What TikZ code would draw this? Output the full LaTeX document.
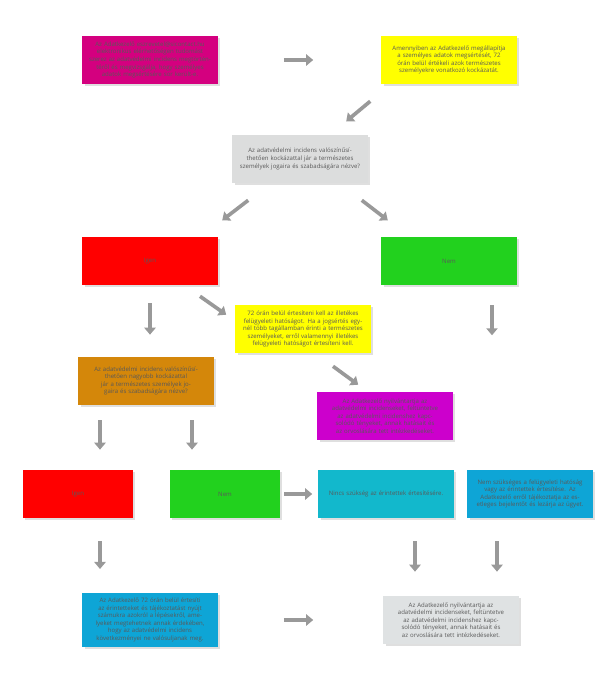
\documentclass[tikz,border=0pt]{standalone}
\usepackage{fontspec}
\setmainfont{Open Sans}
\usetikzlibrary{arrows.meta,calc,shadows}
\definecolor{cMag}{HTML}{D4007F}
\definecolor{cYel}{HTML}{FFFF00}
\definecolor{cGry}{HTML}{DCDDDD}
\definecolor{cRed}{HTML}{FF0000}
\definecolor{cGrn}{HTML}{22D11E}
\definecolor{cOrg}{HTML}{D4870A}
\definecolor{cPur}{HTML}{CC00CC}
\definecolor{cTea}{HTML}{12B8CC}
\definecolor{cBlu}{HTML}{0EA5D6}
\definecolor{cLgr}{HTML}{DFE2E3}
\begin{document}
\begin{tikzpicture}[
        x=0.025cm, y=-0.025cm,
        box/.style={rectangle, minimum width=3.375cm, minimum height=1.2cm, text width=3.05cm,
                    align=center, font=\fontsize{4.3}{5.4}\selectfont, text=black!65,
                    drop shadow={opacity=0.25, shadow xshift=1.5pt, shadow yshift=-1.5pt}},
        nbox/.style={box, minimum width=2.75cm, text width=2.5cm},
        arrow/.style={-{Triangle[length=5pt, width=8pt]}, line width=2.6pt, gray!80}
    ]
    \useasboundingbox (0,0) rectangle (600,691);
    % first row
    \node[box, fill=cMag] (notice) at (150,60) {Az Adatkezelő eszrevetel@sicontact.hu elektronikus elérhetőségen tudomást szerez az adatvédelmi incidens megtörténtéről és megvizsgálja, hogy személyes adatok megsértésére sor került-e.};
    \node[box, fill=cYel] (assess) at (449,60) {Amennyiben az Adatkezelő megállapítja a személyes adatok megsértését, 72 órán belül értékeli azok természetes személyekre vonatkozó kockázatát.};
    \node[box, fill=cGry] (risk) at (300,159) {Az adatvédelmi incidens valószínűsíthetően kockázattal jár a természetes személyek jogaira és szabadságára nézve?};
    % answers
    \node[box, fill=cRed] (yes1) at (150,261) {Igen};
    \node[box, fill=cGrn] (no1) at (449,261) {Nem};
    \node[box, fill=cYel] (report) at (303,329) {72 órán belül értesíteni kell az illetékes felügyeleti hatóságot. Ha a jogsértés egynél több tagállamban érinti a természetes személyeket, erről valamennyi illetékes felügyeleti hatóságot értesíteni kell.};
    \node[box, fill=cOrg] (highrisk) at (146,381) {Az adatvédelmi incidens valószínűsíthetően nagyobb kockázattal jár a természetes személyek jogaira és szabadságára nézve?};
    \node[box, fill=cPur] (log1) at (385,416) {Az Adatkezelő nyilvántartja az adatvédelmi incidenseket, feltüntetve az adatvédelmi incidenshez kapcsolódó tényeket, annak hatásait és az orvoslására tett intézkedéseket.};
    % second answers
    \node[nbox, fill=cRed] (yes2) at (78,494) {Igen};
    \node[nbox, fill=cGrn] (no2) at (225,494) {Nem};
    \node[box, fill=cTea] (noinfo) at (386,494) {Nincs szükség az érintettek értesítésére.};
    \node[box, fill=cBlu, minimum width=3.125cm, text width=2.8cm] (close) at (530,494) {Nem szükséges a felügyeleti hatóság vagy az érintettek értesítése. Az Adatkezelő erről tájékoztatja az esetleges bejelentőt és lezárja az ügyet.};
    % last row
    \node[box, fill=cBlu] (inform) at (150,620) {Az Adatkezelő 72 órán belül értesíti az érintetteket és tájékoztatást nyújt számukra azokról a lépésekről, amelyeket megtehetnek annak érdekében, hogy az adatvédelmi incidens következményei ne valósuljanak meg.};
    \node[box, fill=cLgr] (log2) at (451,620) {Az Adatkezelő nyilvántartja az adatvédelmi incidenseket, feltüntetve az adatvédelmi incidenshez kapcsolódó tényeket, annak hatásait és az orvoslására tett intézkedéseket.};
    % arrows
    \draw[arrow] ($(notice.east)+(66,0)$) -- ($(assess.west)+(-68,0)$);
    \draw[arrow] ($(assess.south west)+(-11,17)$) -- ($(assess.south west)+(-35,37)$);
    \draw[arrow] ($(risk.south west)+(16,17)$) -- ($(risk.south west)+(-10,37)$);
    \draw[arrow] ($(risk.south east)+(-6,17)$) -- ($(risk.south east)+(20,37)$);
    \draw[arrow] ($(yes1.south)+(0,18)$) -- ($(highrisk.north)+(4,-22)$);
    \draw[arrow] ($(yes1.south)+(50,11)$) -- ($(report.north west)+(-9,10)$);
    \draw[arrow] ($(no1.south)+(43,20)$) -- ($(no1.south)+(43,50)$);
    \draw[arrow] ($(report.south)+(30,13)$) -- ($(log1.north west)+(41,-7)$);
    \draw[arrow] ($(highrisk.south)+(-46,15)$) -- ($(yes2.north)+(22,-20)$);
    \draw[arrow] ($(highrisk.south)+(46,15)$) -- ($(no2.north)+(-33,-20)$);
    \draw[arrow] ($(no2.east)+(4,0)$) -- ($(noinfo.west)+(-6,0)$);
    \draw[arrow] ($(yes2.south)+(22,23)$) -- ($(inform.north)+(-50,-24)$);
    \draw[arrow] ($(noinfo.south)+(29,23)$) -- ($(log2.north)+(-36,-24)$);
    \draw[arrow] ($(close.south)+(-33,23)$) -- ($(log2.north)+(46,-24)$);
    \draw[arrow] ($(inform.east)+(66,0)$) -- ($(log2.west)+(-70,0)$);
\end{tikzpicture}
\end{document}
